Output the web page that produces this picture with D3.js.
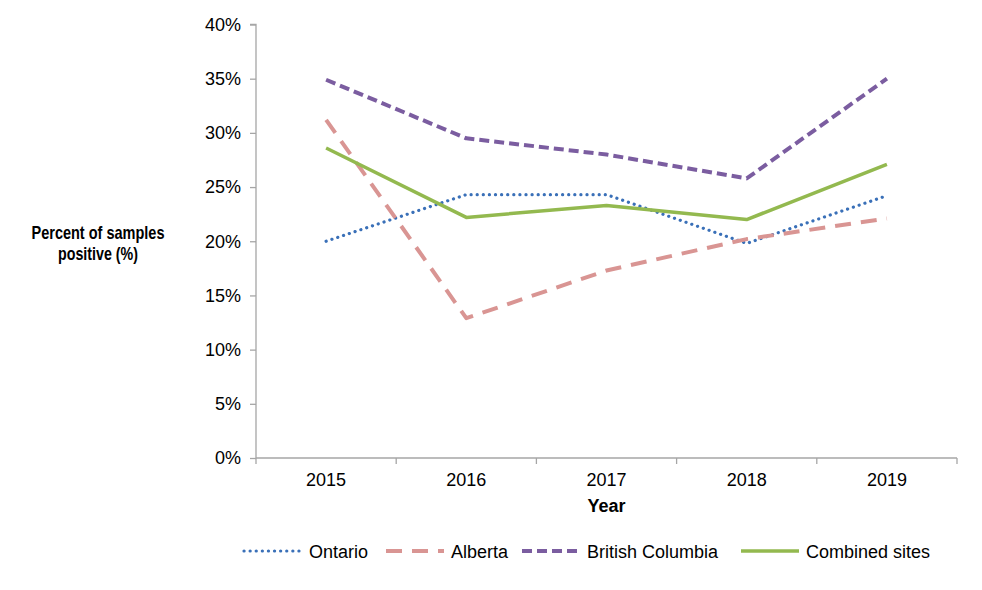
<!DOCTYPE html>
<html><head><meta charset="utf-8">
<script src="https://cdn.jsdelivr.net/npm/d3@7"></script>
<style>body{margin:0;background:#fff}svg{display:block}text{font-family:"Liberation Sans",Arial,sans-serif}</style>
</head><body><svg id="c" width="982" height="590"></svg>
<script>
const years = ["2015","2016","2017","2018","2019"];
const ontario = [20.0, 24.3, 24.3, 19.8, 24.2];
const alberta = [31.2, 12.9, 17.3, 20.2, 22.1];
const britishColumbia = [34.9, 29.5, 28.0, 25.8, 35.0];
const combined = [28.6, 22.2, 23.3, 22.0, 27.1];
const yTicks = [0,5,10,15,20,25,30,35,40];
const seriesNames = ["Ontario","Alberta","British Columbia","Combined sites"];

const series = [
  {name: seriesNames[0], values: ontario, color:"#3a70b8", width:3.2, dash:"0.1 6", cap:"round"},
  {name: seriesNames[1], values: alberta, color:"#d99593", width:4, dash:"16 10", cap:"butt"},
  {name: seriesNames[2], values: britishColumbia, color:"#7b5da0", width:4, dash:"10 5", cap:"butt"},
  {name: seriesNames[3], values: combined, color:"#93b94f", width:3.5, dash:null, cap:"butt"}
];

const svg = d3.select("#c");
const L=256, R=957, T=24.5, B=458;
const x = d3.scaleBand().domain(years).range([L,R]);
const y = d3.scaleLinear().domain([0,40]).range([B,T]);
const FS = 18;

// y axis
const ya = svg.append("g").attr("transform",`translate(${L},0)`)
  .call(d3.axisLeft(y).tickValues(yTicks).tickSize(6).tickPadding(9).tickFormat(d=>d+"%"));
ya.select(".domain").attr("stroke","#a6a6a6").attr("stroke-width",1.3).attr("d",`M-6,${T}H0V${B}`);
ya.selectAll(".tick line").attr("stroke","#a6a6a6").attr("stroke-width",1.3);
ya.selectAll(".tick text").attr("font-size",FS).attr("fill","#000").attr("font-family","Liberation Sans, Arial, sans-serif");

// x axis
const xa = svg.append("g").attr("transform",`translate(0,${B})`)
  .call(d3.axisBottom(x).tickSize(0).tickPadding(15));
xa.select(".domain").attr("stroke","#a6a6a6").attr("stroke-width",1.3).attr("d",`M${L},0H${R}`);
xa.selectAll(".tick text").attr("font-size",FS).attr("fill","#000").attr("font-family","Liberation Sans, Arial, sans-serif");
const bounds = years.map(d=>x(d)).concat([R]);
xa.selectAll(".bt").data(bounds).enter().append("line")
  .attr("x1",d=>d).attr("x2",d=>d).attr("y1",0).attr("y2",6)
  .attr("stroke","#a6a6a6").attr("stroke-width",1.3);

// titles
svg.append("text").attr("x",(L+R)/2).attr("y",512).attr("text-anchor","middle")
  .attr("font-size",FS).attr("font-weight","bold").text("Year");
const yt = svg.append("text").attr("text-anchor","middle").attr("font-size",18.5).attr("font-weight","bold");
yt.append("tspan").attr("x",98).attr("y",239).attr("textLength",133).attr("lengthAdjust","spacingAndGlyphs").text("Percent of samples");
yt.append("tspan").attr("x",98).attr("y",260).attr("textLength",80).attr("lengthAdjust","spacingAndGlyphs").text("positive (%)");

// lines
const line = d3.line().x((d,i)=>x(years[i])+x.bandwidth()/2).y(d=>y(d));
series.forEach(s=>{
  svg.append("path").attr("d",line(s.values)).attr("fill","none")
    .attr("stroke",s.color).attr("stroke-width",s.width)
    .attr("stroke-dasharray",s.dash).attr("stroke-linecap",s.cap).attr("stroke-linejoin","round");
});

// legend
const legX = [244, 386, 522, 741];
const ly = 551;
series.forEach((s,i)=>{
  const g = svg.append("g");
  g.append("line").attr("x1",legX[i]).attr("x2",legX[i]+58).attr("y1",ly).attr("y2",ly)
    .attr("stroke",s.color).attr("stroke-width",s.width)
    .attr("stroke-dasharray",s.dash).attr("stroke-linecap",s.cap);
  g.append("text").attr("x",legX[i]+65).attr("y",ly+6.5).attr("font-size",FS).text(s.name);
});
</script></body></html>
